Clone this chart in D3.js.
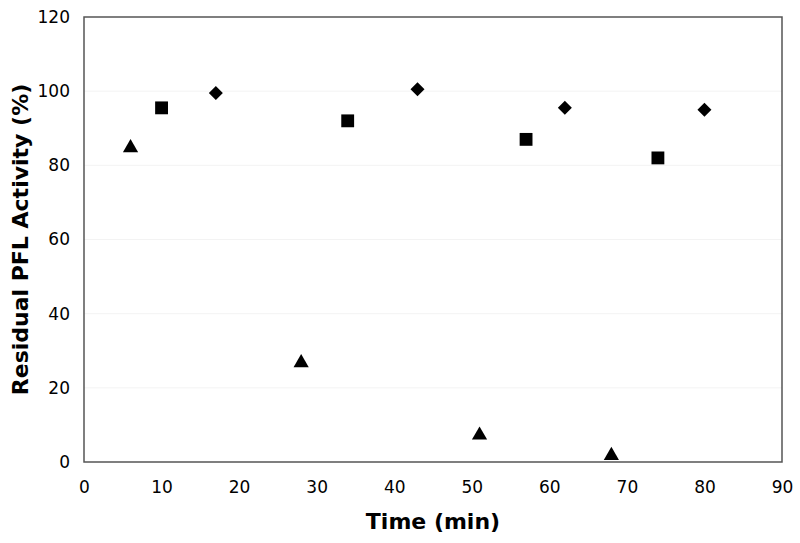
<!DOCTYPE html>
<html><head><meta charset="utf-8">
<script src="https://cdn.jsdelivr.net/npm/d3@7"></script>
<style>body{margin:0;background:#fff}</style>
</head><body>
<svg id="c" width="800" height="543"></svg>
<script>
const triangleX = [6, 28, 51, 68];
const triangleY = [85, 27, 7.5, 2];
const squareX = [10, 34, 57, 74];
const squareY = [95.5, 92, 87, 82];
const diamondX = [17, 43, 62, 80];
const diamondY = [99.5, 100.5, 95.5, 95];
const xTicks = [0, 10, 20, 30, 40, 50, 60, 70, 80, 90];
const yTicks = [0, 20, 40, 60, 80, 100, 120];

const svg = d3.select("#c");
const m = {l: 84, t: 17, r: 782, b: 462};
const x = d3.scaleLinear().domain([0, 90]).range([m.l, m.r]);
const y = d3.scaleLinear().domain([0, 120]).range([m.b, m.t]);
const font = "Verdana, 'DejaVu Sans', sans-serif";

// gridlines
svg.append("g").selectAll("line").data(yTicks.filter(d => d > 0 && d < 120)).join("line")
  .attr("x1", m.l).attr("x2", m.r).attr("y1", d => y(d)).attr("y2", d => y(d))
  .attr("stroke", "#f3f3f3").attr("stroke-width", 1);

// frame
svg.append("rect").attr("x", m.l).attr("y", m.t).attr("width", m.r - m.l).attr("height", m.b - m.t)
  .attr("fill", "none").attr("stroke", "#555").attr("stroke-width", 1.5);

// axes
const xa = svg.append("g").attr("transform", `translate(0,${m.b})`)
  .call(d3.axisBottom(x).tickValues(xTicks).tickSize(0).tickPadding(19).tickFormat(d3.format("d")));
const ya = svg.append("g").attr("transform", `translate(${m.l},0)`)
  .call(d3.axisLeft(y).tickValues(yTicks).tickSize(0).tickPadding(14).tickFormat(d3.format("d")));
[xa, ya].forEach(a => {
  a.select(".domain").remove();
  a.selectAll("text").attr("font-family", font).attr("font-size", 17).attr("fill", "#000");
});

// markers
const sym = (type, size) => d3.symbol().type(type).size(size)();
const zip = (xs, ys) => xs.map((v, i) => [v, ys[i]]);
svg.append("g").selectAll("path").data(zip(triangleX, triangleY)).join("path")
  .attr("d", sym(d3.symbolTriangle, 100))
  .attr("transform", d => `translate(${x(d[0])},${y(d[1]) + 1})`).attr("fill", "#000");
svg.append("g").selectAll("path").data(zip(squareX, squareY)).join("path")
  .attr("d", sym(d3.symbolSquare, 165))
  .attr("transform", d => `translate(${x(d[0])},${y(d[1])})`).attr("fill", "#000");
svg.append("g").selectAll("path").data(zip(diamondX, diamondY)).join("path")
  .attr("d", sym(d3.symbolSquare, 98))
  .attr("transform", d => `translate(${x(d[0])},${y(d[1])}) rotate(45)`).attr("fill", "#000");

// titles
svg.append("text").attr("x", (m.l + m.r) / 2).attr("y", 529).attr("text-anchor", "middle")
  .attr("font-family", font).attr("font-weight", "bold").attr("font-size", 22).text("Time (min)");
svg.append("text").attr("transform", `translate(28,${(m.t + m.b) / 2 + 0}) rotate(-90)`).attr("text-anchor", "middle")
  .attr("font-family", font).attr("font-weight", "bold").attr("font-size", 22).text("Residual PFL Activity (%)");
</script>
</body></html>
